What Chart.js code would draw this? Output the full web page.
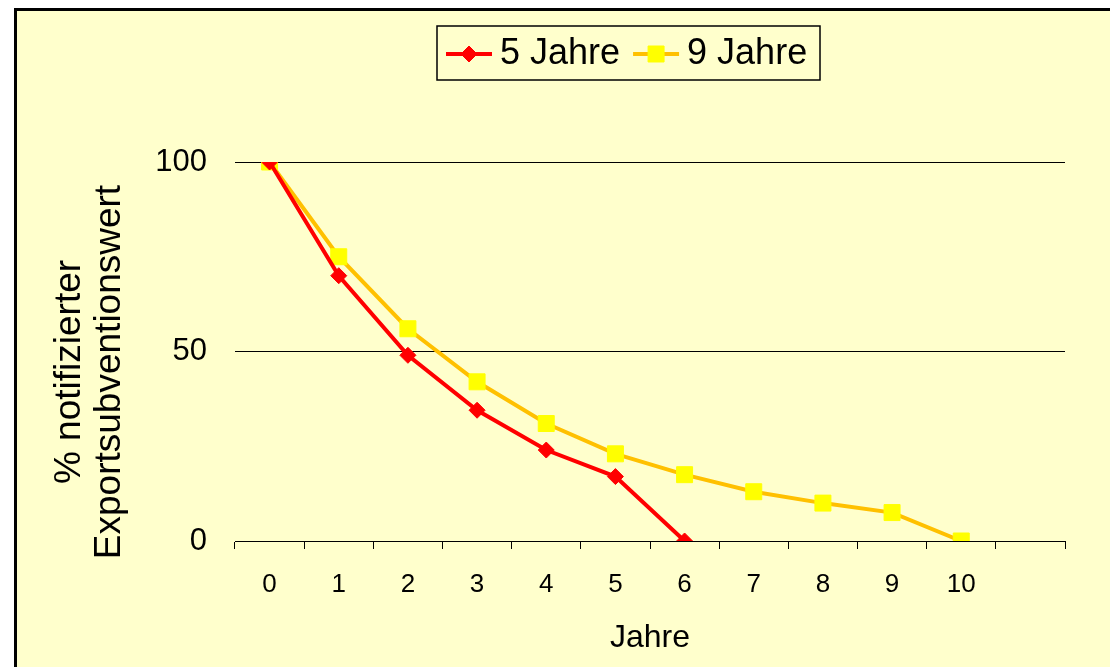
<!DOCTYPE html>
<html>
<head>
<meta charset="utf-8">
<script src="https://cdn.jsdelivr.net/npm/chart.js@4"></script>
<style>
  html, body { margin: 0; padding: 0; background: #ffffff; }
  #panel {
    position: absolute; left: 14px; top: 8px;
    width: 1100px; height: 665px;
    background: #ffffcc;
    border-left: 3px solid #000; border-top: 3px solid #000;
  }
  #chart { position: absolute; left: 0; top: 0; }
</style>
</head>
<body>
<div id="panel"></div>
<canvas id="chart" width="1110" height="667"></canvas>
<script>
// ==============================
// DATA
// ==============================
const years = ['0', '1', '2', '3', '4', '5', '6', '7', '8', '9', '10', ''];
const fiveYears = [100, 70, 49, 34.5, 24, 17, 0];
const nineYears = [100, 75, 56, 42, 31, 23, 17.5, 13, 10, 7.5, 0];
const yTicks = [0, 50, 100];
const yTitleLines = ['% notifizierter', 'Exportsubventionswert'];

const fontFamily = "'Liberation Sans', Arial, sans-serif";

// ==============================
// LEGEND (box with line + marker) + Y TITLE
// ==============================
const boxLegend = {
    id: 'boxLegend',
    afterDraw(chart) {
        const ctx = chart.ctx;
        const left = 437, top = 26, right = 820, bottom = 80;
        const midY = (top + bottom) / 2 + 1;
        ctx.save();
        ctx.strokeStyle = '#000';
        ctx.lineWidth = 1.5;
        ctx.strokeRect(left, top, right - left, bottom - top);

        ctx.font = '36px ' + fontFamily;
        ctx.textBaseline = 'middle';

        let x = left + 9;
        chart.data.datasets.forEach(ds => {
            ctx.strokeStyle = ds.borderColor;
            ctx.lineWidth = 4;
            ctx.beginPath();
            ctx.moveTo(x, midY);
            ctx.lineTo(x + 46, midY);
            ctx.stroke();
            ctx.fillStyle = ds.pointBackgroundColor;
            ctx.strokeStyle = ds.pointBorderColor;
            ctx.lineWidth = 1;
            Chart.helpers.drawPoint(ctx, {
                pointStyle: ds.pointStyle,
                radius: ds.pointRadius,
                borderWidth: 1
            }, x + 23, midY);
            ctx.fillStyle = '#000';
            ctx.fillText(ds.label, x + 54, midY);
            x += 54 + ctx.measureText(ds.label).width + 13;
        });
        ctx.restore();

        // y axis title, sitting a bit lower than the plot centre
        ctx.save();
        ctx.font = '37px ' + fontFamily;
        ctx.fillStyle = '#000';
        ctx.textAlign = 'center';
        ctx.textBaseline = 'middle';
        ctx.translate(0, 372);
        ctx.rotate(-Math.PI / 2);
        yTitleLines.forEach((line, i) => {
            ctx.fillText(line, 0, 70 + i * 40);
        });
        ctx.restore();
    }
};

// ==============================
// CHART
// ==============================
const ctx = document.getElementById('chart').getContext('2d');

new Chart(ctx, {
    type: 'line',
    data: {
        labels: years,
        datasets: [
            {
                label: '5 Jahre',
                data: fiveYears,
                borderColor: '#ff0000',
                borderWidth: 4,
                pointStyle: 'rectRot',
                pointRadius: 8,
                pointBackgroundColor: '#ff0000',
                pointBorderColor: '#ff0000',
                pointBorderWidth: 1,
                tension: 0
            },
            {
                label: '9 Jahre',
                data: nineYears,
                borderColor: '#ffc000',
                borderWidth: 4,
                pointStyle: 'rect',
                pointRadius: 11.3,
                pointBackgroundColor: '#ffff00',
                pointBorderColor: '#ffff00',
                pointBorderWidth: 1,
                tension: 0
            }
        ]
    },
    options: {
        responsive: false,
        animation: false,
        layout: {
            padding: { left: 50, right: 45, top: 162, bottom: 0 }
        },
        plugins: {
            legend: { display: false },
            tooltip: { enabled: false }
        },
        scales: {
            x: {
                type: 'category',
                offset: true,
                grid: {
                    offset: true,
                    drawOnChartArea: false,
                    drawTicks: true,
                    tickLength: 8,
                    color: '#000'
                },
                border: { display: true, color: '#000', width: 1 },
                ticks: {
                    color: '#000',
                    font: { family: fontFamily, size: 26 },
                    padding: 20,
                    maxRotation: 0,
                    autoSkip: false
                },
                title: {
                    display: true,
                    text: 'Jahre',
                    color: '#000',
                    font: { family: fontFamily, size: 32 },
                    padding: { top: 0, bottom: 10 }
                },
                afterFit(scale) { scale.height = 126; }
            },
            y: {
                min: 0,
                max: 100,
                afterBuildTicks(scale) {
                    scale.ticks = yTicks.map(v => ({ value: v }));
                },
                grid: {
                    drawTicks: false,
                    color: '#000',
                    lineWidth: 1
                },
                border: { display: false },
                ticks: {
                    color: '#000',
                    font: { family: fontFamily, size: 31 },
                    padding: 28
                },
                title: { display: false },
                afterFit(scale) { scale.width = 185; }
            }
        }
    },
    plugins: [boxLegend]
});
</script>
</body>
</html>
